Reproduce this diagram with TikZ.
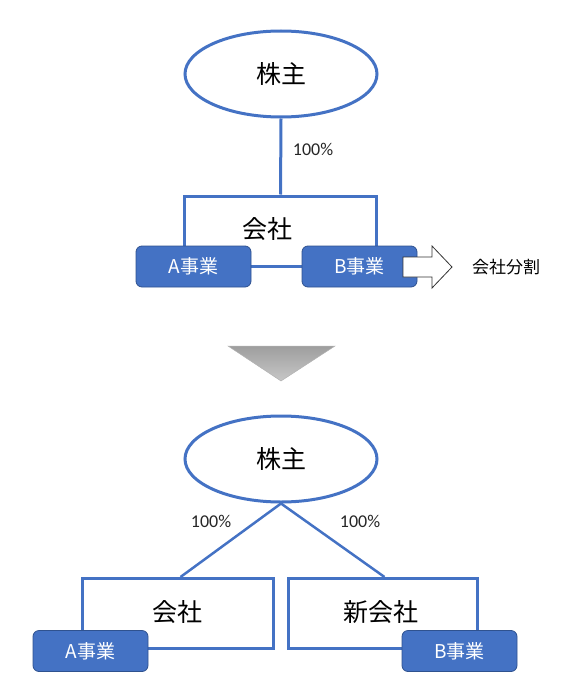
\documentclass[tikz,border=0pt]{standalone}
\usepackage{fontspec}
\setmainfont{Carlito}
\newfontfamily\jp{Noto Sans CJK JP}
\usepackage{tikz}
\usetikzlibrary{shapes.geometric, arrows}
\definecolor{offblue}{HTML}{4472C4}
\definecolor{darkblue}{HTML}{2F528F}
\tikzstyle{holder} = [ellipse, minimum width=192pt, minimum height=86pt, draw=offblue, line width=3pt, fill=white, font=\jp\fontsize{25}{30}\selectfont]
\tikzstyle{company} = [rectangle, minimum width=192pt, minimum height=70pt, draw=offblue, line width=3pt, fill=white, font=\jp\fontsize{25}{30}\selectfont]
\tikzstyle{business} = [rectangle, rounded corners=6pt, minimum width=115pt, minimum height=41pt, draw=darkblue, line width=0.8pt, fill=offblue, text=white, font=\jp\fontsize{19}{22}\selectfont]
\tikzstyle{pct} = [font=\fontsize{18}{22}\selectfont, text=black!85]
\tikzstyle{link} = [draw=offblue, line width=2.5pt]

\begin{document}
\begin{tikzpicture}[x=1pt, y=-1pt]
		\useasboundingbox (0,0) rectangle (564,695);
		% before
		\node (kabu1) [holder] at (281,74) {株主};
		\node (kaisha1) [company] at (280.5,231) {};
		\node at (267,229) [font=\jp\fontsize{25}{30}\selectfont] {会社};
		\node (jigyoA1) [business] at (193.5,266.5) {A事業};
		\node (jigyoB1) [business] at (359.5,266.5) {B事業};
		\draw [link, line width=3pt] (kabu1.south) -- (kaisha1.north);
		\node (pct1) [pct] at (313,149) {100\%};
		\draw [black!80, line width=0.8pt, fill=white] (403,257) -- (432,257) -- (432,246) -- (452,267) -- (432,288) -- (432,277) -- (403,277) -- cycle;
		\node (bunkatsu) at (506,267) [font=\jp\fontsize{17}{20}\selectfont] {会社分割};
		% transition
		\path [draw=black!30, line width=0.5pt, top color=black!38, bottom color=black!22] (228,346) -- (335,346) -- (281,381) -- cycle;
		% after
		\node (kabu2) [holder] at (281,459) {株主};
		\node (kaisha2) [company, minimum width=191pt] at (177.5,613.5) {};
		\node (shinkaisha) [company, minimum width=189pt] at (382.5,613.5) {};
		\node at (177,612) [font=\jp\fontsize{25}{30}\selectfont] {会社};
		\node at (381,612) [font=\jp\fontsize{25}{30}\selectfont] {新会社};
		\node (jigyoA2) [business] at (90.5,651) {A事業};
		\node (jigyoB2) [business] at (459.5,651) {B事業};
		\draw [link] (kabu2.south) -- ([xshift=3pt]kaisha2.north);
		\draw [link] (kabu2.south) -- ([xshift=2pt]shinkaisha.north);
		\node (pct2) [pct] at (211,521) {100\%};
		\node (pct3) [pct] at (360,521) {100\%};
	\end{tikzpicture}
\end{document}
